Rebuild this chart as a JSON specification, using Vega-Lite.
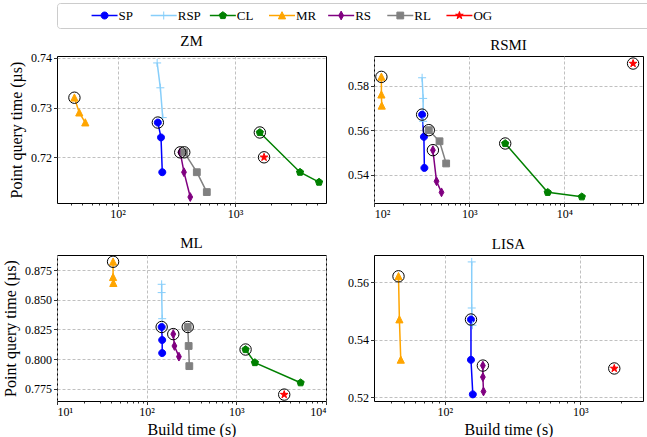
{
"$schema": "https://vega.github.io/schema/vega-lite/v6.json",
"padding": {"left": 1, "top": 2, "right": 0, "bottom": 0},
"config": {
  "font": "Liberation Serif, Times New Roman, DejaVu Serif, serif",
  "view": {"stroke": "black", "strokeWidth": 1},
  "axis": {"labelFont": "Liberation Serif, Times New Roman, DejaVu Serif, serif", "labelFontSize": 12, "labelColor": "black", "titleFont": "Liberation Serif, Times New Roman, DejaVu Serif, serif", "titleFontSize": 16, "titleFontWeight": "normal", "titleColor": "black", "tickColor": "black", "tickSize": 3.5, "tickWidth": 0.8, "domain": false, "gridColor": "#b0b0b0", "gridDash": [3, 2], "gridWidth": 0.8, "labelPadding": 2},
  "title": {"font": "Liberation Serif, Times New Roman, DejaVu Serif, serif", "fontSize": 15, "fontWeight": "normal", "color": "black", "offset": 3},
  "range": {
    "category": ["#008000", "#ffa500", "#ff0000", "#808080", "#800080", "#87cefa", "#0000ff"],
    "symbol": ["M0,-0.95L0.9,-0.29L0.56,0.77L-0.56,0.77L-0.9,-0.29Z", "M0,-0.95L0.9,0.85L-0.9,0.85Z", "M0,-1L0.225,-0.309L0.951,-0.309L0.363,0.118L0.588,0.809L0,0.382L-0.588,0.809L-0.363,0.118L-0.951,-0.309L-0.225,-0.309Z", "M-0.85,-0.85H0.85V0.85H-0.85Z", "M0,-1.1L0.6,0L0,1.1L-0.6,0Z", "M-1,0H1M0,-1V1", "M-0.875,0A0.875,0.875,0,1,0,0.875,0A0.875,0.875,0,1,0,-0.875,0Z"]
  }
},
"datasets": {
  "leg": [{"s": "SP"}, {"s": "RSP"}, {"s": "CL"}, {"s": "MR"}, {"s": "RS"}, {"s": "RL"}, {"s": "OG"}],
  "pts": [
    {"p": "ZM", "s": "SP", "k": 1, "x": 220, "y": 0.727},
    {"p": "ZM", "s": "SP", "k": 2, "x": 234, "y": 0.724},
    {"p": "ZM", "s": "SP", "k": 3, "x": 240, "y": 0.717},
    {"p": "ZM", "s": "RSP", "k": 1, "x": 217, "y": 0.739},
    {"p": "ZM", "s": "RSP", "k": 2, "x": 231, "y": 0.734},
    {"p": "ZM", "s": "RSP", "k": 3, "x": 242, "y": 0.728},
    {"p": "ZM", "s": "CL", "k": 1, "x": 1622, "y": 0.725},
    {"p": "ZM", "s": "CL", "k": 2, "x": 3565, "y": 0.717},
    {"p": "ZM", "s": "CL", "k": 3, "x": 5176, "y": 0.715},
    {"p": "ZM", "s": "MR", "k": 1, "x": 42.9, "y": 0.732},
    {"p": "ZM", "s": "MR", "k": 2, "x": 47.2, "y": 0.729},
    {"p": "ZM", "s": "MR", "k": 3, "x": 53.1, "y": 0.727},
    {"p": "ZM", "s": "RS", "k": 1, "x": 341, "y": 0.721},
    {"p": "ZM", "s": "RS", "k": 2, "x": 367, "y": 0.717},
    {"p": "ZM", "s": "RS", "k": 3, "x": 415, "y": 0.712},
    {"p": "ZM", "s": "RL", "k": 1, "x": 369, "y": 0.721},
    {"p": "ZM", "s": "RL", "k": 2, "x": 472, "y": 0.717},
    {"p": "ZM", "s": "RL", "k": 3, "x": 574, "y": 0.713},
    {"p": "ZM", "s": "OG", "k": 1, "x": 1762, "y": 0.720},
    {"p": "RSMI", "s": "SP", "k": 1, "x": 319, "y": 0.567},
    {"p": "RSMI", "s": "SP", "k": 2, "x": 333, "y": 0.557},
    {"p": "RSMI", "s": "SP", "k": 3, "x": 337, "y": 0.543},
    {"p": "RSMI", "s": "RSP", "k": 1, "x": 319, "y": 0.5836},
    {"p": "RSMI", "s": "RSP", "k": 2, "x": 327, "y": 0.5743},
    {"p": "RSMI", "s": "RSP", "k": 3, "x": 327, "y": 0.564},
    {"p": "RSMI", "s": "CL", "k": 1, "x": 2384, "y": 0.554},
    {"p": "RSMI", "s": "CL", "k": 2, "x": 6670, "y": 0.532},
    {"p": "RSMI", "s": "CL", "k": 3, "x": 15230, "y": 0.530},
    {"p": "RSMI", "s": "MR", "k": 1, "x": 119, "y": 0.584},
    {"p": "RSMI", "s": "MR", "k": 2, "x": 119, "y": 0.576},
    {"p": "RSMI", "s": "MR", "k": 3, "x": 120, "y": 0.571},
    {"p": "RSMI", "s": "RS", "k": 1, "x": 414, "y": 0.551},
    {"p": "RSMI", "s": "RS", "k": 2, "x": 452, "y": 0.537},
    {"p": "RSMI", "s": "RS", "k": 3, "x": 510, "y": 0.532},
    {"p": "RSMI", "s": "RL", "k": 1, "x": 375, "y": 0.560},
    {"p": "RSMI", "s": "RL", "k": 2, "x": 486, "y": 0.555},
    {"p": "RSMI", "s": "RL", "k": 3, "x": 571, "y": 0.545},
    {"p": "RSMI", "s": "OG", "k": 1, "x": 52700, "y": 0.590},
    {"p": "ML", "s": "SP", "k": 1, "x": 147, "y": 0.827},
    {"p": "ML", "s": "SP", "k": 2, "x": 149, "y": 0.816},
    {"p": "ML", "s": "SP", "k": 3, "x": 149, "y": 0.805},
    {"p": "ML", "s": "RSP", "k": 1, "x": 147, "y": 0.863},
    {"p": "ML", "s": "RSP", "k": 2, "x": 147, "y": 0.856},
    {"p": "ML", "s": "RSP", "k": 3, "x": 149, "y": 0.834},
    {"p": "ML", "s": "CL", "k": 1, "x": 1268, "y": 0.808},
    {"p": "ML", "s": "CL", "k": 2, "x": 1611, "y": 0.797},
    {"p": "ML", "s": "CL", "k": 3, "x": 5211, "y": 0.780},
    {"p": "ML", "s": "MR", "k": 1, "x": 42.2, "y": 0.882},
    {"p": "ML", "s": "MR", "k": 2, "x": 42.2, "y": 0.869},
    {"p": "ML", "s": "MR", "k": 3, "x": 42.5, "y": 0.864},
    {"p": "ML", "s": "RS", "k": 1, "x": 198, "y": 0.821},
    {"p": "ML", "s": "RS", "k": 2, "x": 204, "y": 0.811},
    {"p": "ML", "s": "RS", "k": 3, "x": 229, "y": 0.802},
    {"p": "ML", "s": "RL", "k": 1, "x": 287, "y": 0.827},
    {"p": "ML", "s": "RL", "k": 2, "x": 294, "y": 0.811},
    {"p": "ML", "s": "RL", "k": 3, "x": 299, "y": 0.794},
    {"p": "ML", "s": "OG", "k": 1, "x": 3420, "y": 0.770},
    {"p": "LISA", "s": "SP", "k": 1, "x": 156, "y": 0.547},
    {"p": "LISA", "s": "SP", "k": 2, "x": 156, "y": 0.533},
    {"p": "LISA", "s": "SP", "k": 3, "x": 161, "y": 0.521},
    {"p": "LISA", "s": "RSP", "k": 1, "x": 158, "y": 0.567},
    {"p": "LISA", "s": "RSP", "k": 2, "x": 158, "y": 0.551},
    {"p": "LISA", "s": "RSP", "k": 3, "x": 160, "y": 0.545},
    {"p": "LISA", "s": "MR", "k": 1, "x": 45.5, "y": 0.562},
    {"p": "LISA", "s": "MR", "k": 2, "x": 46.2, "y": 0.547},
    {"p": "LISA", "s": "MR", "k": 3, "x": 47.3, "y": 0.533},
    {"p": "LISA", "s": "RS", "k": 1, "x": 191, "y": 0.531},
    {"p": "LISA", "s": "RS", "k": 2, "x": 191, "y": 0.527},
    {"p": "LISA", "s": "RS", "k": 3, "x": 193, "y": 0.522},
    {"p": "LISA", "s": "OG", "k": 1, "x": 1783, "y": 0.530}
  ]
},
"spacing": 4,
"vconcat": [
  {
    "width": 600, "height": 25,
    "view": {"stroke": "#cccccc", "strokeWidth": 1, "cornerRadius": 3},
    "data": {"name": "leg"},
    "encoding": {"x": {"field": "s", "type": "nominal", "sort": ["SP", "RSP", "CL", "MR", "RS", "RL", "OG"], "scale": {"type": "point", "range": [18, 432]}, "axis": null}},
    "layer": [
      {"mark": {"type": "tick", "orient": "horizontal", "thickness": 1.5, "size": 26, "opacity": 1}, "encoding": {"color": {"field": "s", "type": "nominal", "legend": null}}},
      {"mark": {"type": "point", "filled": true, "size": 64, "opacity": 1, "strokeWidth": 1}, "encoding": {"shape": {"field": "s", "type": "nominal", "legend": null}, "fill": {"field": "s", "type": "nominal", "legend": null}, "stroke": {"field": "s", "type": "nominal", "legend": null}}},
      {"mark": {"type": "text", "align": "left", "baseline": "middle", "dx": 14, "fontSize": 13, "color": "black"}, "encoding": {"text": {"field": "s"}}}
    ]
  },
  {
    "columns": 2,
    "align": "each",
    "spacing": {"row": 15, "column": 20},
    "concat": [
      {
        "width": 269, "height": 147,
        "title": "ZM",
        "data": {"name": "pts"},
        "transform": [{"filter": "datum.p=='ZM'"}],
        "encoding": {"y": {"field": "y", "type": "quantitative", "scale": {"domain": [0.7108, 0.7404], "nice": false, "zero": false}, "axis": {"values": [0.72, 0.73, 0.74], "format": ".2f", "title": "Point query time (µs)", "titlePadding": 6}}},
        "layer": [
          {"mark": {"type": "line", "strokeWidth": 1.5}, "encoding": {"x": {"field": "x", "type": "quantitative", "scale": {"type": "log", "domain": [30.5, 5930], "nice": false}, "axis": {"values": [100, 1000], "labelExpr": "'10' + (datum.value < 50 ? '¹' : datum.value < 500 ? '²' : datum.value < 5000 ? '³' : '⁴')", "grid": true, "title": null}}, "color": {"field": "s", "type": "nominal", "legend": null}, "detail": {"field": "s"}, "order": {"field": "k"}}},
          {"mark": {"type": "point", "filled": true, "size": 64, "opacity": 1, "strokeWidth": 1}, "encoding": {"x": {"field": "x", "type": "quantitative", "scale": {"type": "log", "domain": [30.5, 5930], "nice": false}, "axis": {"values": [40, 50, 60, 70, 80, 90, 200, 300, 400, 500, 600, 700, 800, 900, 2000, 3000, 4000, 5000], "labels": false, "grid": false, "tickSize": 2, "orient": "bottom", "title": null}}, "shape": {"field": "s", "type": "nominal", "legend": null}, "fill": {"field": "s", "type": "nominal", "legend": null}, "stroke": {"field": "s", "type": "nominal", "legend": null}}},
          {"transform": [{"filter": "datum.k==1 && datum.s!='RSP'"}], "mark": {"type": "point", "shape": "circle", "size": 130, "filled": false, "stroke": "black", "strokeWidth": 1, "opacity": 1}, "encoding": {"x": {"field": "x", "type": "quantitative", "scale": {"type": "log", "domain": [30.5, 5930], "nice": false}, "axis": null}}}
        ],
        "resolve": {"axis": {"x": "independent"}}
      },
      {
        "width": 269, "height": 147,
        "title": "RSMI",
        "data": {"name": "pts"},
        "transform": [{"filter": "datum.p=='RSMI'"}],
        "encoding": {"y": {"field": "y", "type": "quantitative", "scale": {"domain": [0.5272, 0.5934], "nice": false, "zero": false}, "axis": {"values": [0.54, 0.56, 0.58], "format": ".2f", "title": null}}},
        "layer": [
          {"mark": {"type": "line", "strokeWidth": 1.5}, "encoding": {"x": {"field": "x", "type": "quantitative", "scale": {"type": "log", "domain": [99.5, 67000], "nice": false}, "axis": {"values": [100, 1000, 10000], "labelExpr": "'10' + (datum.value < 50 ? '¹' : datum.value < 500 ? '²' : datum.value < 5000 ? '³' : '⁴')", "grid": true, "title": null}}, "color": {"field": "s", "type": "nominal", "legend": null}, "detail": {"field": "s"}, "order": {"field": "k"}}},
          {"mark": {"type": "point", "filled": true, "size": 64, "opacity": 1, "strokeWidth": 1}, "encoding": {"x": {"field": "x", "type": "quantitative", "scale": {"type": "log", "domain": [99.5, 67000], "nice": false}, "axis": {"values": [200, 300, 400, 500, 600, 700, 800, 900, 2000, 3000, 4000, 5000, 6000, 7000, 8000, 9000, 20000, 30000, 40000, 50000, 60000], "labels": false, "grid": false, "tickSize": 2, "orient": "bottom", "title": null}}, "shape": {"field": "s", "type": "nominal", "legend": null}, "fill": {"field": "s", "type": "nominal", "legend": null}, "stroke": {"field": "s", "type": "nominal", "legend": null}}},
          {"transform": [{"filter": "datum.k==1 && datum.s!='RSP'"}], "mark": {"type": "point", "shape": "circle", "size": 130, "filled": false, "stroke": "black", "strokeWidth": 1, "opacity": 1}, "encoding": {"x": {"field": "x", "type": "quantitative", "scale": {"type": "log", "domain": [99.5, 67000], "nice": false}, "axis": null}}}
        ],
        "resolve": {"axis": {"x": "independent"}}
      },
      {
        "width": 269, "height": 146,
        "title": "ML",
        "data": {"name": "pts"},
        "transform": [{"filter": "datum.p=='ML'"}],
        "encoding": {"y": {"field": "y", "type": "quantitative", "scale": {"domain": [0.7646, 0.8877], "nice": false, "zero": false}, "axis": {"values": [0.775, 0.8, 0.825, 0.85, 0.875], "format": ".3f", "title": "Point query time (µs)", "titlePadding": 6}}},
        "layer": [
          {"mark": {"type": "line", "strokeWidth": 1.5}, "encoding": {"x": {"field": "x", "type": "quantitative", "scale": {"type": "log", "domain": [10, 10000], "nice": false}, "axis": {"values": [10, 100, 1000, 10000], "labelExpr": "'10' + (datum.value < 50 ? '¹' : datum.value < 500 ? '²' : datum.value < 5000 ? '³' : '⁴')", "grid": true, "title": "Build time (s)", "titlePadding": 4}}, "color": {"field": "s", "type": "nominal", "legend": null}, "detail": {"field": "s"}, "order": {"field": "k"}}},
          {"mark": {"type": "point", "filled": true, "size": 64, "opacity": 1, "strokeWidth": 1}, "encoding": {"x": {"field": "x", "type": "quantitative", "scale": {"type": "log", "domain": [10, 10000], "nice": false}, "axis": {"values": [20, 30, 40, 50, 60, 70, 80, 90, 200, 300, 400, 500, 600, 700, 800, 900, 2000, 3000, 4000, 5000, 6000, 7000, 8000, 9000], "labels": false, "grid": false, "tickSize": 2, "orient": "bottom", "title": null}}, "shape": {"field": "s", "type": "nominal", "legend": null}, "fill": {"field": "s", "type": "nominal", "legend": null}, "stroke": {"field": "s", "type": "nominal", "legend": null}}},
          {"transform": [{"filter": "datum.k==1 && datum.s!='RSP'"}], "mark": {"type": "point", "shape": "circle", "size": 130, "filled": false, "stroke": "black", "strokeWidth": 1, "opacity": 1}, "encoding": {"x": {"field": "x", "type": "quantitative", "scale": {"type": "log", "domain": [10, 10000], "nice": false}, "axis": null}}}
        ],
        "resolve": {"axis": {"x": "independent"}}
      },
      {
        "width": 269, "height": 146,
        "title": "LISA",
        "data": {"name": "pts"},
        "transform": [{"filter": "datum.p=='LISA'"}],
        "encoding": {"y": {"field": "y", "type": "quantitative", "scale": {"domain": [0.5187, 0.5694], "nice": false, "zero": false}, "axis": {"values": [0.52, 0.54, 0.56], "format": ".2f", "title": null}}},
        "layer": [
          {"mark": {"type": "line", "strokeWidth": 1.5}, "encoding": {"x": {"field": "x", "type": "quantitative", "scale": {"type": "log", "domain": [30, 2906], "nice": false}, "axis": {"values": [100, 1000], "labelExpr": "'10' + (datum.value < 50 ? '¹' : datum.value < 500 ? '²' : datum.value < 5000 ? '³' : '⁴')", "grid": true, "title": "Build time (s)", "titlePadding": 4}}, "color": {"field": "s", "type": "nominal", "legend": null}, "detail": {"field": "s"}, "order": {"field": "k"}}},
          {"mark": {"type": "point", "filled": true, "size": 64, "opacity": 1, "strokeWidth": 1}, "encoding": {"x": {"field": "x", "type": "quantitative", "scale": {"type": "log", "domain": [30, 2906], "nice": false}, "axis": {"values": [40, 50, 60, 70, 80, 90, 200, 300, 400, 500, 600, 700, 800, 900, 2000], "labels": false, "grid": false, "tickSize": 2, "orient": "bottom", "title": null}}, "shape": {"field": "s", "type": "nominal", "legend": null}, "fill": {"field": "s", "type": "nominal", "legend": null}, "stroke": {"field": "s", "type": "nominal", "legend": null}}},
          {"transform": [{"filter": "datum.k==1 && datum.s!='RSP'"}], "mark": {"type": "point", "shape": "circle", "size": 130, "filled": false, "stroke": "black", "strokeWidth": 1, "opacity": 1}, "encoding": {"x": {"field": "x", "type": "quantitative", "scale": {"type": "log", "domain": [30, 2906], "nice": false}, "axis": null}}}
        ],
        "resolve": {"axis": {"x": "independent"}}
      }
    ]
  }
]
}
